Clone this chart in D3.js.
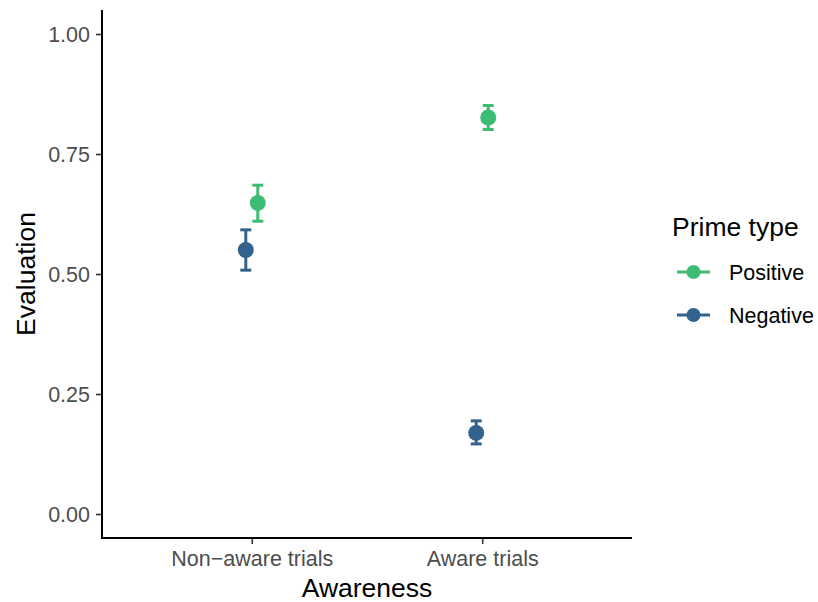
<!DOCTYPE html>
<html>
<head>
<meta charset="utf-8">
<script src="https://cdn.jsdelivr.net/npm/d3@7"></script>
<style>
  html, body { margin: 0; padding: 0; background: #fff; }
  svg { display: block; font-family: "Liberation Sans", Arial, sans-serif; }
</style>
</head>
<body>
<svg id="chart" width="818" height="602"></svg>
<script>
// Categories and series
const categories = ["Non\u2212aware trials", "Aware trials"];
const primeTypes = ["Positive", "Negative"];
const positiveMean  = [0.648, 0.826];
const positiveLower = [0.610, 0.801];
const positiveUpper = [0.685, 0.851];
const negativeMean  = [0.550, 0.169];
const negativeLower = [0.508, 0.146];
const negativeUpper = [0.592, 0.194];
const yTicks = [0, 0.25, 0.5, 0.75, 1.0];

const colors = { Positive: "#3dbc74", Negative: "#33638d" };

const rows = [];
categories.forEach((c, i) => {
  rows.push({ cat: c, type: "Positive", mean: positiveMean[i], lo: positiveLower[i], hi: positiveUpper[i] });
  rows.push({ cat: c, type: "Negative", mean: negativeMean[i], lo: negativeLower[i], hi: negativeUpper[i] });
});

const svg = d3.select("#chart");
const plotLeft = 102, plotRight = 632, plotTop = 10, plotBottom = 538;

const x = d3.scalePoint().domain(categories).range([plotLeft, plotRight]).padding(0.65);
const dodge = d3.scalePoint().domain(["Negative", "Positive"]).range([-6, 6]);
const y = d3.scaleLinear().domain([-0.05, 1.05]).range([plotBottom, plotTop]);

// Axes
const yAxis = svg.append("g")
  .attr("transform", `translate(${plotLeft},0)`)
  .call(d3.axisLeft(y).tickValues(yTicks).tickFormat(d3.format(".2f")).tickSize(6).tickPadding(6));
const xAxis = svg.append("g")
  .attr("transform", `translate(0,${plotBottom})`)
  .call(d3.axisBottom(x).tickSize(6).tickPadding(7));

[yAxis, xAxis].forEach(g => {
  g.select(".domain").remove();
  g.selectAll(".tick line").attr("stroke", "#333").attr("stroke-width", 1.6);
  g.selectAll(".tick text").attr("fill", "#4d4d4d").style("font-size", "21.5px")
    .style("font-family", "'Liberation Sans', Arial, sans-serif");
});
yAxis.selectAll(".tick text").attr("dy", "0.36em");

svg.append("line").attr("x1", plotLeft).attr("x2", plotLeft).attr("y1", plotTop).attr("y2", plotBottom + 1)
  .attr("stroke", "#000").attr("stroke-width", 2);
svg.append("line").attr("x1", plotLeft - 1).attr("x2", plotRight).attr("y1", plotBottom).attr("y2", plotBottom)
  .attr("stroke", "#000").attr("stroke-width", 2);

// Axis titles
svg.append("text").attr("x", (plotLeft + plotRight) / 2).attr("y", 597)
  .attr("text-anchor", "middle").style("font-size", "26.5px").attr("fill", "#000").text("Awareness");
svg.append("text").attr("transform", `translate(35,${(plotTop + plotBottom) / 2}) rotate(-90)`)
  .attr("text-anchor", "middle").style("font-size", "26.5px").attr("fill", "#000").text("Evaluation");

// Error bars and points
const marks = svg.append("g");
const capHalf = 5.5;
rows.forEach(d => {
  const cx = x(d.cat) + dodge(d.type);
  const col = colors[d.type];
  const g = marks.append("g").attr("stroke", col).attr("stroke-width", 3);
  g.append("line").attr("x1", cx).attr("x2", cx).attr("y1", y(d.lo)).attr("y2", y(d.hi));
  g.append("line").attr("x1", cx - capHalf).attr("x2", cx + capHalf).attr("y1", y(d.lo)).attr("y2", y(d.lo));
  g.append("line").attr("x1", cx - capHalf).attr("x2", cx + capHalf).attr("y1", y(d.hi)).attr("y2", y(d.hi));
  marks.append("circle").attr("cx", cx).attr("cy", y(d.mean)).attr("r", 8).attr("fill", col);
});

// Legend
const legend = svg.append("g");
legend.append("text").attr("x", 672).attr("y", 236).style("font-size", "26.5px").attr("fill", "#000").text("Prime type");
primeTypes.forEach((t, i) => {
  const cy = 272 + i * 43;
  legend.append("line").attr("x1", 677).attr("x2", 710).attr("y1", cy).attr("y2", cy)
    .attr("stroke", colors[t]).attr("stroke-width", 3);
  legend.append("circle").attr("cx", 693.5).attr("cy", cy).attr("r", 7).attr("fill", colors[t]);
  legend.append("text").attr("x", 729).attr("y", cy).attr("dy", "0.36em")
    .style("font-size", "21.5px").attr("fill", "#000").text(t);
});
</script>
</body>
</html>
